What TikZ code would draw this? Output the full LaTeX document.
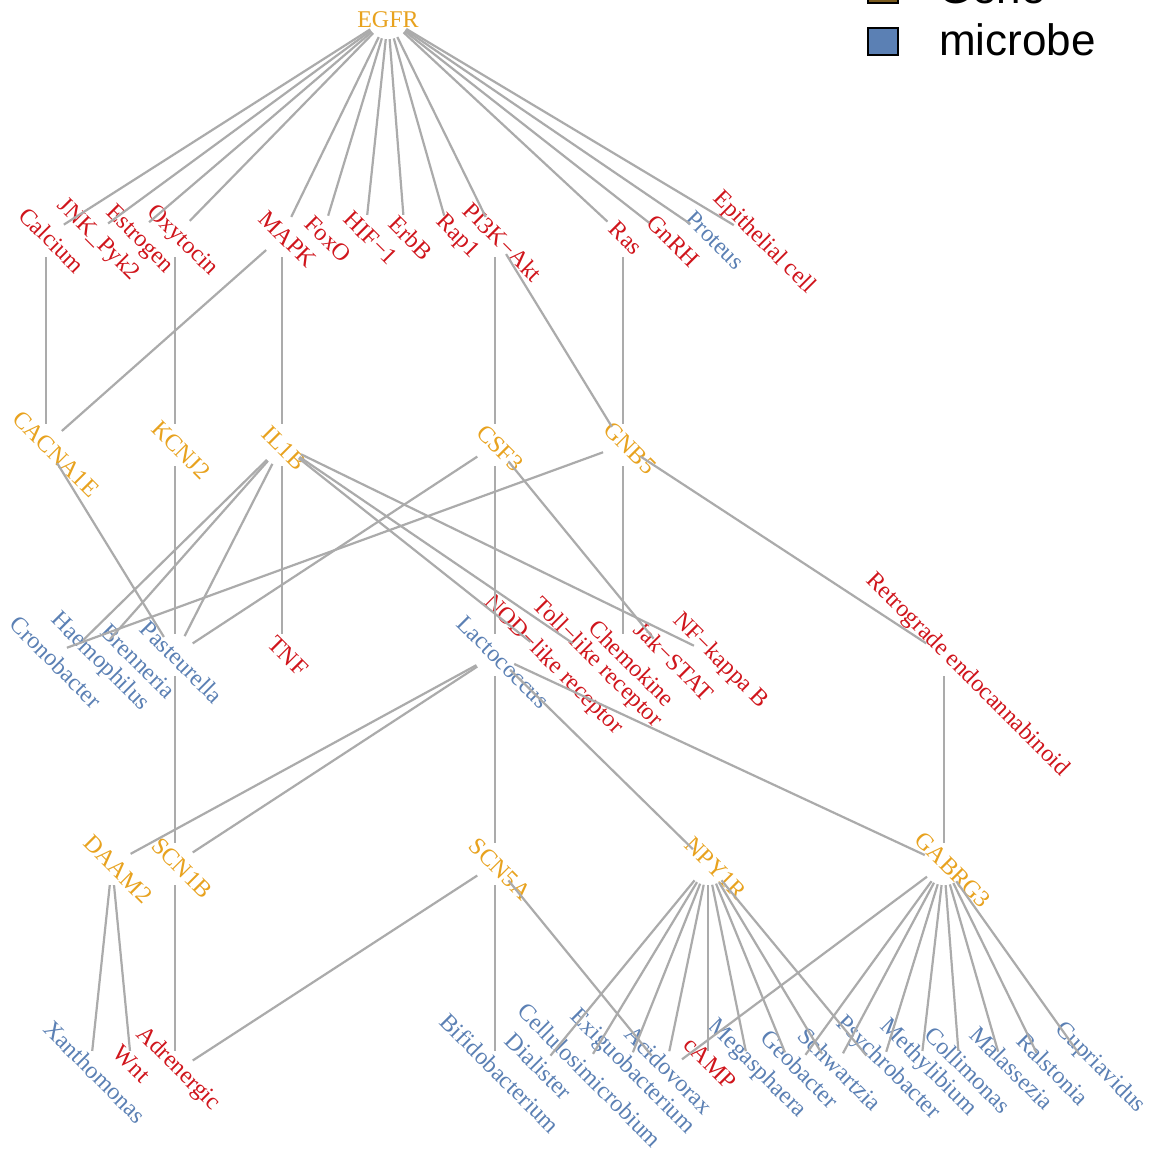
\documentclass[tikz,border=0pt]{standalone}
\usepackage{fontspec}
\setmainfont{Liberation Serif}
\newfontfamily\legendfont{Liberation Sans}
\definecolor{genec}{HTML}{E8A21E}
\definecolor{genebox}{HTML}{7A5A1E}
\definecolor{pathc}{HTML}{D0151C}
\definecolor{micc}{HTML}{5B80B4}
\definecolor{edgec}{HTML}{ABABAB}
\tikzset{
  vtx/.style={circle,minimum size=42pt,inner sep=0pt},
  lab/.style={rotate=-45,font=\fontsize{24}{24}\selectfont,inner sep=0pt},
  gn/.style={lab,text=genec},
  pw/.style={lab,text=pathc},
  mb/.style={lab,text=micc},
  edge/.style={draw=edgec,line width=2.2pt},
  legbox/.style={draw=black,line width=2pt,minimum width=30pt,minimum height=27pt,inner sep=0pt},
  legtext/.style={anchor=base west,font=\legendfont\fontsize{44}{44}\selectfont,inner sep=0pt}
}
% #1 name, #2 x, #3 y, #4 style, #5 text, #6 label dx, #7 label dy
\newcommand\vx[7]{\node[vtx] (#1) at (#2,#3) {};\node[#4] (#1-l) at (#2+#6,#3+#7) {#5};}
\begin{document}
\begin{tikzpicture}[x=1pt,y=-1pt]
\useasboundingbox[fill=white] (0,0) rectangle (1151,1159);
% legend
\node[legbox,fill=genebox] (lg1) at (883,-11) {};
\node[legtext] (lt1) at (938,4) {Gene};
\node[legbox,fill=micc] (lg2) at (883,41) {};
\node[legtext] (lt2) at (939,55) {microbe};
% level 0
\node[vtx] (egfr) at (388,18) {};
\node[font=\fontsize{24}{24}\selectfont,text=genec,inner sep=0pt] (egfr-l) at (388,20) {EGFR};
% level 1
\vx{calcium}{46}{236}{pw}{Calcium}{6}{4}
\vx{jnk}{91}{236}{pw}{JNK\_Pyk2}{7}{4}
\vx{estrogen}{133}{236}{pw}{Estrogen}{6}{4}
\vx{oxytocin}{175}{236}{pw}{Oxytocin}{7}{5}
\vx{mapk}{282}{236}{pw}{MAPK}{6}{3}
\vx{foxo}{322}{236}{pw}{FoxO}{6}{3}
\vx{hif}{365}{236}{pw}{HIF−1}{6}{2}
\vx{erbb}{405}{236}{pw}{ErbB}{6}{2}
\vx{rap1}{450}{236}{pw}{Rap1}{7}{1}
\vx{pi3k}{495}{236}{pw}{PI3K−Akt}{8}{6}
\vx{ras}{623}{236}{pw}{Ras}{3}{2}
\vx{gnrh}{666}{236}{pw}{GnRH}{7}{5}
\vx{proteus}{708}{236}{mb}{Proteus}{7}{4}
\vx{epith}{752}{236}{pw}{Epithelial cell}{12}{7}
% level 2
\vx{cacna1e}{46}{445}{gn}{CACNA1E}{10}{9}
\vx{kcnj2}{175}{445}{gn}{KCNJ2}{6}{5}
\vx{il1b}{282}{445}{gn}{IL1B}{2}{3}
\vx{csf3}{495}{445}{gn}{CSF3}{5}{3}
\vx{gnb5}{623}{445}{gn}{GNB5}{7}{3}
% level 3
\vx{crono}{47}{655}{mb}{Cronobacter}{9}{7}
\vx{haemo}{68}{655}{mb}{Haemophilus}{32}{7}
\vx{brenn}{96}{655}{mb}{Brenneria}{42}{6}
\vx{paste}{175}{655}{mb}{Pasteurella}{7}{7}
\vx{tnf}{282}{655}{pw}{TNF}{6}{1}
\vx{lacto}{495}{655}{mb}{Lactococcus}{8}{7}
\vx{nod}{547}{655}{pw}{NOD−like receptor}{6}{10}
\vx{toll}{590}{655}{pw}{Toll−like receptor}{7}{8}
\vx{chemo}{623}{655}{pw}{Chemokine}{9}{8}
\vx{jak}{667}{655}{pw}{Jak−STAT}{7}{6}
\vx{nfkb}{713}{655}{pw}{NF−kappa B}{7}{6}
\vx{retro}{944}{655}{pw}{Retrograde endocannabinoid}{23}{20}
% level 4
\vx{daam2}{112}{864}{gn}{DAAM2}{6}{5}
\vx{scn1b}{175}{864}{gn}{SCN1B}{7}{4}
\vx{scn5a}{495}{864}{gn}{SCN5A}{5}{5}
\vx{npy1r}{708}{864}{gn}{NPY1R}{8}{4}
\vx{gabrg3}{944}{864}{gn}{GABRG3}{9}{6}
% level 5
\vx{xanth}{90}{1072}{mb}{Xanthomonas}{5}{0}
\vx{wnt}{132}{1072}{pw}{Wnt}{0}{-8}
\vx{adren}{175}{1072}{pw}{Adrenergic}{3}{-3}
\vx{bifido}{495}{1072}{mb}{Bifidobacterium}{5}{1}
\vx{dial}{537}{1072}{mb}{Dialister}{2}{-6}
\vx{cellu}{582}{1072}{mb}{Cellulosimicrobium}{8}{3}
\vx{exig}{625}{1072}{mb}{Exiguobacterium}{7}{0}
\vx{acido}{665}{1072}{mb}{Acidovorax}{4}{-2}
\vx{camp}{708}{1072}{pw}{cAMP}{2}{-9}
\vx{megas}{750}{1072}{mb}{Megasphaera}{7}{-3}
\vx{geob}{793}{1072}{mb}{Geobacter}{7}{-3}
\vx{schw}{833}{1072}{mb}{Schwartzia}{7}{-3}
\vx{psych}{880}{1072}{mb}{Psychrobacter}{8}{-4}
\vx{methyl}{920}{1072}{mb}{Methylibium}{8}{-4}
\vx{collim}{960}{1072}{mb}{Collimonas}{8}{-2}
\vx{malass}{1004}{1072}{mb}{Malassezia}{8}{-4}
\vx{ralst}{1046}{1072}{mb}{Ralstonia}{7}{-3}
\vx{cupri}{1092}{1072}{mb}{Cupriavidus}{8}{-4}
% edges
\foreach \t in {calcium,jnk,estrogen,oxytocin,mapk,foxo,hif,erbb,rap1,pi3k,ras,gnrh,proteus,epith}
  \draw[edge] (egfr) -- (\t);
\draw[edge] (calcium) -- (cacna1e);
\draw[edge] (mapk) -- (cacna1e);
\draw[edge] (oxytocin) -- (kcnj2);
\draw[edge] (mapk) -- (il1b);
\draw[edge] (pi3k) -- (csf3);
\draw[edge] (pi3k) -- (gnb5);
\draw[edge] (ras) -- (gnb5);
\draw[edge] (cacna1e) -- (paste);
\draw[edge] (kcnj2) -- (paste);
\foreach \t in {haemo,brenn,paste,tnf,nod,toll,nfkb}
  \draw[edge] (il1b) -- (\t);
\foreach \t in {paste,lacto,jak}
  \draw[edge] (csf3) -- (\t);
\foreach \t in {crono,chemo,retro}
  \draw[edge] (gnb5) -- (\t);
\draw[edge] (paste) -- (scn1b);
\foreach \t in {daam2,scn1b,scn5a,npy1r,gabrg3}
  \draw[edge] (lacto) -- (\t);
\draw[edge] (retro) -- (gabrg3);
\draw[edge] (daam2) -- (xanth);
\draw[edge] (daam2) -- (wnt);
\draw[edge] (scn1b) -- (adren);
\foreach \t in {adren,bifido,acido}
  \draw[edge] (scn5a) -- (\t);
\foreach \t in {dial,cellu,exig,acido,camp,megas,geob,schw,psych}
  \draw[edge] (npy1r) -- (\t);
\foreach \t in {acido,geob,schw,psych,methyl,collim,malass,ralst,cupri}
  \draw[edge] (gabrg3) -- (\t);
\end{tikzpicture}
\end{document}
